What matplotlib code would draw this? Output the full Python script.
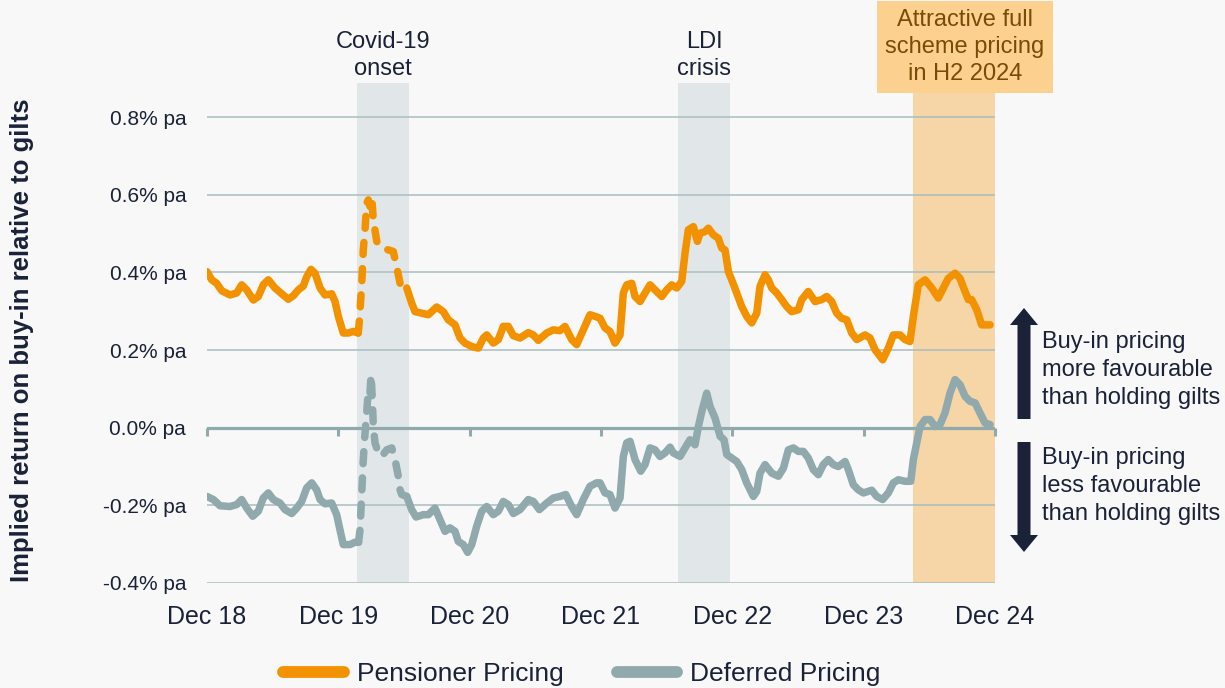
import numpy as np
import matplotlib
matplotlib.use("Agg")
import matplotlib.pyplot as plt
from matplotlib.patches import Rectangle, FancyArrow
from matplotlib.lines import Line2D

plt.rcParams['font.family'] = ['Liberation Sans', 'DejaVu Sans']

# months since Dec 2018, values in % pa
pens_m = [0.0, 0.43, 0.88, 1.34, 2.10, 2.71, 3.17, 3.63, 4.23, 4.69, 5.14, 5.60, 6.21, 6.83,
          7.43, 7.89, 8.34, 8.80, 9.11, 9.50, 9.87, 10.33, 10.78, 11.39, 11.70, 12.00, 12.45,
          12.91, 13.37, 13.82, 13.92, 14.14, 14.28, 14.44, 14.59, 14.74, 14.89, 15.05, 15.20,
          15.51, 15.96, 16.57, 17.02, 17.33, 17.64, 17.94, 18.25, 18.70, 19.01, 19.62, 20.22,
          20.99, 21.59, 22.05, 22.66, 23.12, 23.57, 24.19, 24.79, 25.25, 25.56, 26.16, 26.62,
          27.07, 27.53, 27.99, 28.60, 29.36, 29.82, 30.27, 31.04, 31.64, 32.25, 32.71, 33.32,
          33.78, 34.38, 34.99, 35.45, 35.91, 36.37, 36.82, 37.28, 37.74, 38.04, 38.35, 38.81,
          39.11, 39.57, 40.02, 40.48, 40.94, 41.55, 42.01, 42.46, 42.92, 43.38, 43.68, 43.98,
          44.44, 44.81, 45.05, 45.50, 45.81, 46.26, 46.72, 47.03, 47.33, 47.64, 47.94, 48.40,
          48.86, 49.31, 49.77, 50.23, 50.53, 50.99, 51.29, 51.60, 52.06, 52.51, 52.97, 53.43,
          54.03, 54.34, 54.94, 55.56, 56.17, 56.63, 57.08, 57.54, 57.99, 58.45, 58.91, 59.37,
          60.12, 60.58, 61.04, 61.74, 62.25, 62.71, 63.32, 63.78, 64.23, 64.54, 64.99, 65.61,
          66.22, 66.82, 67.28, 67.74, 68.35, 68.80, 69.26, 69.56, 69.87, 70.33, 70.78, 71.24,
          71.55]
pens_v = [0.402, 0.381, 0.372, 0.353, 0.342, 0.347, 0.368, 0.355, 0.329, 0.338, 0.368, 0.381,
          0.360, 0.345, 0.331, 0.340, 0.355, 0.365, 0.389, 0.408, 0.398, 0.360, 0.342, 0.345,
          0.325, 0.287, 0.244, 0.244, 0.248, 0.244, 0.274, 0.372, 0.458, 0.510, 0.578, 0.587,
          0.570, 0.595, 0.535, 0.480, 0.463, 0.458, 0.454, 0.415, 0.372, 0.360, 0.360, 0.321,
          0.299, 0.295, 0.291, 0.311, 0.299, 0.278, 0.265, 0.231, 0.218, 0.209, 0.205, 0.231,
          0.239, 0.218, 0.227, 0.261, 0.261, 0.237, 0.231, 0.245, 0.239, 0.225, 0.244, 0.252,
          0.250, 0.261, 0.227, 0.214, 0.252, 0.291, 0.287, 0.282, 0.257, 0.248, 0.218, 0.239,
          0.347, 0.368, 0.372, 0.338, 0.325, 0.347, 0.368, 0.355, 0.338, 0.355, 0.368, 0.360,
          0.377, 0.450, 0.510, 0.518, 0.480, 0.501, 0.505, 0.514, 0.497, 0.488, 0.463, 0.458,
          0.402, 0.381, 0.347, 0.312, 0.287, 0.270, 0.295, 0.364, 0.394, 0.381, 0.360, 0.347,
          0.330, 0.312, 0.299, 0.304, 0.330, 0.351, 0.325, 0.330, 0.338, 0.325, 0.295, 0.282,
          0.278, 0.244, 0.227, 0.239, 0.231, 0.201, 0.175, 0.205, 0.239, 0.239, 0.227, 0.222,
          0.287, 0.368, 0.381, 0.360, 0.334, 0.360, 0.385, 0.398, 0.385, 0.351, 0.330, 0.330,
          0.304, 0.265, 0.265, 0.265]

def_m = [0.0, 0.58, 1.19, 2.10, 2.71, 3.17, 3.63, 4.18, 4.69, 5.14, 5.60, 6.06, 6.67, 7.13,
         7.74, 8.20, 8.65, 9.11, 9.57, 10.02, 10.33, 10.78, 11.39, 11.85, 12.15, 12.45, 13.07,
         13.52, 13.85, 13.98, 14.14, 14.28, 14.44, 14.59, 14.74, 14.89, 14.99, 15.05, 15.14,
         15.20, 15.35, 15.65, 15.96, 16.42, 16.88, 17.18, 17.48, 17.64, 17.79, 18.25, 18.70,
         19.10, 19.76, 20.22, 20.83, 21.29, 21.75, 22.20, 22.66, 22.96, 23.42, 23.82, 24.19,
         24.64, 25.10, 25.56, 26.16, 26.62, 27.07, 27.53, 27.99, 28.60, 29.36, 29.82, 30.37,
         31.04, 31.64, 32.25, 32.78, 33.32, 33.78, 34.38, 34.99, 35.60, 35.91, 36.37, 36.82,
         37.28, 37.74, 38.04, 38.35, 38.65, 39.11, 39.63, 40.02, 40.48, 40.94, 41.39, 41.85,
         42.31, 42.61, 43.22, 43.68, 44.13, 44.59, 44.90, 45.21, 45.66, 45.96, 46.42, 46.88,
         47.24, 47.49, 47.94, 48.40, 48.86, 49.31, 49.92, 50.23, 50.53, 50.99, 51.60, 52.21,
         52.67, 53.12, 53.58, 54.03, 54.49, 54.94, 55.40, 55.86, 56.31, 56.77, 57.23, 57.68,
         58.30, 58.60, 59.06, 59.51, 59.97, 60.74, 61.19, 61.74, 62.25, 62.71, 63.17, 63.78,
         64.30, 64.54, 64.85, 65.15, 65.61, 66.07, 66.52, 66.98, 67.43, 67.89, 68.35, 68.80,
         69.26, 69.72, 70.18, 70.63, 71.09, 71.55]
def_v = [-0.177, -0.185, -0.201, -0.203, -0.198, -0.185, -0.207, -0.228, -0.215, -0.181,
         -0.168, -0.185, -0.194, -0.211, -0.221, -0.207, -0.190, -0.155, -0.142, -0.160,
         -0.185, -0.196, -0.194, -0.224, -0.263, -0.301, -0.301, -0.295, -0.295, -0.263,
         -0.168, -0.082, -0.014, 0.038, 0.098, 0.089, 0.136, 0.106, 0.046, 0.003, -0.039,
         -0.065, -0.074, -0.057, -0.052, -0.082, -0.125, -0.160, -0.172, -0.177, -0.211,
         -0.230, -0.224, -0.224, -0.207, -0.237, -0.267, -0.258, -0.267, -0.293, -0.301,
         -0.321, -0.301, -0.254, -0.215, -0.203, -0.224, -0.215, -0.190, -0.198, -0.221,
         -0.211, -0.185, -0.190, -0.211, -0.194, -0.181, -0.177, -0.172, -0.203, -0.224,
         -0.185, -0.151, -0.142, -0.142, -0.168, -0.172, -0.207, -0.181, -0.074, -0.039,
         -0.035, -0.082, -0.112, -0.095, -0.052, -0.057, -0.074, -0.065, -0.050, -0.065,
         -0.074, -0.052, -0.031, -0.044, 0.003, 0.042, 0.089, 0.055, 0.025, -0.022, -0.031,
         -0.069, -0.078, -0.087, -0.108, -0.142, -0.177, -0.164, -0.117, -0.095, -0.117,
         -0.125, -0.104, -0.057, -0.052, -0.061, -0.061, -0.078, -0.108, -0.121, -0.095,
         -0.082, -0.095, -0.100, -0.087, -0.108, -0.147, -0.160, -0.168, -0.161, -0.177,
         -0.185, -0.168, -0.142, -0.134, -0.138, -0.138, -0.082, -0.039, 0.003, 0.021,
         0.021, 0.003, 0.008, 0.038, 0.089, 0.124, 0.111, 0.081, 0.068, 0.064, 0.038, 0.012,
         0.008]

x_ticks = [0, 12, 24, 36, 48, 60, 72]
x_labels = ["Dec 18", "Dec 19", "Dec 20", "Dec 21", "Dec 22", "Dec 23", "Dec 24"]
y_ticks = [-0.4, -0.2, 0.0, 0.2, 0.4, 0.6, 0.8]

covid_span = (13.71, 18.46)
ldi_span = (43.04, 47.79)
h2_span = (64.51, 72.0)
dash_window = (13.9, 18.2)

ORANGE = "#F39200"
GREY = "#8FA9AD"
NAVY = "#1A2238"
BG = "#F8F8F8"

fig = plt.figure(figsize=(12.25, 6.88), dpi=100, facecolor=BG)
ax = fig.add_axes([207 / 1225, 105 / 688, 788 / 1225, 500 / 688], facecolor=BG)
ax.set_xlim(0, 72)
ax.set_ylim(-0.4, 0.888)
for s in ax.spines.values():
    s.set_visible(False)

# shaded periods
ax.axvspan(*covid_span, color="#E1E7E9", zorder=0.5, lw=0)
ax.axvspan(*ldi_span, color="#E1E7E9", zorder=0.5, lw=0)
ax.axvspan(*h2_span, color="#F6D5A6", zorder=0.5, lw=0)

# gridlines
for yv in y_ticks:
    if yv == 0:
        ax.axhline(0, color=GREY, lw=2.3, zorder=1.2)
    else:
        ax.axhline(yv, color="#A9BCC0", lw=1.1, zorder=1)
ax.plot(x_ticks, [0] * len(x_ticks), ls="none", marker=3, ms=6, mew=2.2,
        color=GREY, zorder=1.2, clip_on=False)

def draw_series(m, v, color):
    m = np.asarray(m)
    v = np.asarray(v)
    i0 = np.searchsorted(m, dash_window[0]) - 1
    i1 = np.searchsorted(m, dash_window[1])
    kw = dict(color=color, lw=5.4, solid_capstyle="round", solid_joinstyle="round", zorder=3)
    ax.plot(m[:i0 + 1], v[:i0 + 1], **kw)
    ax.plot(m[i1:], v[i1:], **kw)
    ax.plot(m[i0:i1 + 1], v[i0:i1 + 1], color=color, lw=5.4, ls=(0, (1.6, 1.9)),
            dash_capstyle="round", zorder=3)

draw_series(pens_m, pens_v, ORANGE)
draw_series(def_m, def_v, GREY)

ax.set_xticks(x_ticks)
ax.set_xticklabels(x_labels, fontsize=18, color=NAVY)
ax.set_yticks(y_ticks)
ax.set_yticklabels([f"{t:.1f}% pa" for t in y_ticks], fontsize=15, color=NAVY)
ax.tick_params(axis="x", length=0, pad=16)
ax.tick_params(axis="y", length=0, pad=15)

fig.text(22 / 1225, 1 - 340 / 688, "Implied return on buy-in relative to gilts",
         rotation=90, ha="center", va="center", fontsize=18.5, fontweight="bold", color=NAVY)

# event labels
ax.text(sum(covid_span) / 2, 1.006, "Covid-19\nonset", transform=ax.get_xaxis_transform(),
        ha="center", va="bottom", fontsize=17, color=NAVY, linespacing=1.3)
ax.text(sum(ldi_span) / 2, 1.006, "LDI\ncrisis", transform=ax.get_xaxis_transform(),
        ha="center", va="bottom", fontsize=17, color=NAVY, linespacing=1.3)

fig.patches.append(Rectangle((877 / 1225, 1 - 93 / 688), 176 / 1225, 92 / 688,
                             transform=fig.transFigure, color="#FCD18F", lw=0, zorder=0))
fig.text(965 / 1225, 1 - 47 / 688, "Attractive full\nscheme pricing\nin H2 2024",
         ha="center", va="center", fontsize=17, color="#7A4B06", linespacing=1.3)

# side arrows
fig.patches.append(FancyArrow(10.24, 2.69, 0, 1.11, width=0.13, head_width=0.28,
                              head_length=0.17, length_includes_head=True,
                              transform=fig.dpi_scale_trans, color=NAVY, lw=0))
fig.patches.append(FancyArrow(10.24, 2.46, 0, -1.10, width=0.13, head_width=0.28,
                              head_length=0.17, length_includes_head=True,
                              transform=fig.dpi_scale_trans, color=NAVY, lw=0))
fig.text(1042 / 1225, 1 - 370 / 688, "Buy-in pricing\nmore favourable\nthan holding gilts",
         ha="left", va="center", fontsize=17, color=NAVY, linespacing=1.38)
fig.text(1042 / 1225, 1 - 486 / 688, "Buy-in pricing\nless favourable\nthan holding gilts",
         ha="left", va="center", fontsize=17, color=NAVY, linespacing=1.38)

handles = [Line2D([], [], color=ORANGE, lw=8.5, solid_capstyle="round"),
           Line2D([], [], color=GREY, lw=8.5, solid_capstyle="round")]
leg = fig.legend(handles, ["Pensioner Pricing", "Deferred Pricing"], loc="center",
                 bbox_to_anchor=(582 / 1225, 1 - 674 / 688), ncol=2, frameon=False,
                 fontsize=19, handlelength=2.3, handletextpad=0.5, columnspacing=2.0)
for t in leg.get_texts():
    t.set_color(NAVY)

fig.savefig("out.png", dpi=100, facecolor=BG)
